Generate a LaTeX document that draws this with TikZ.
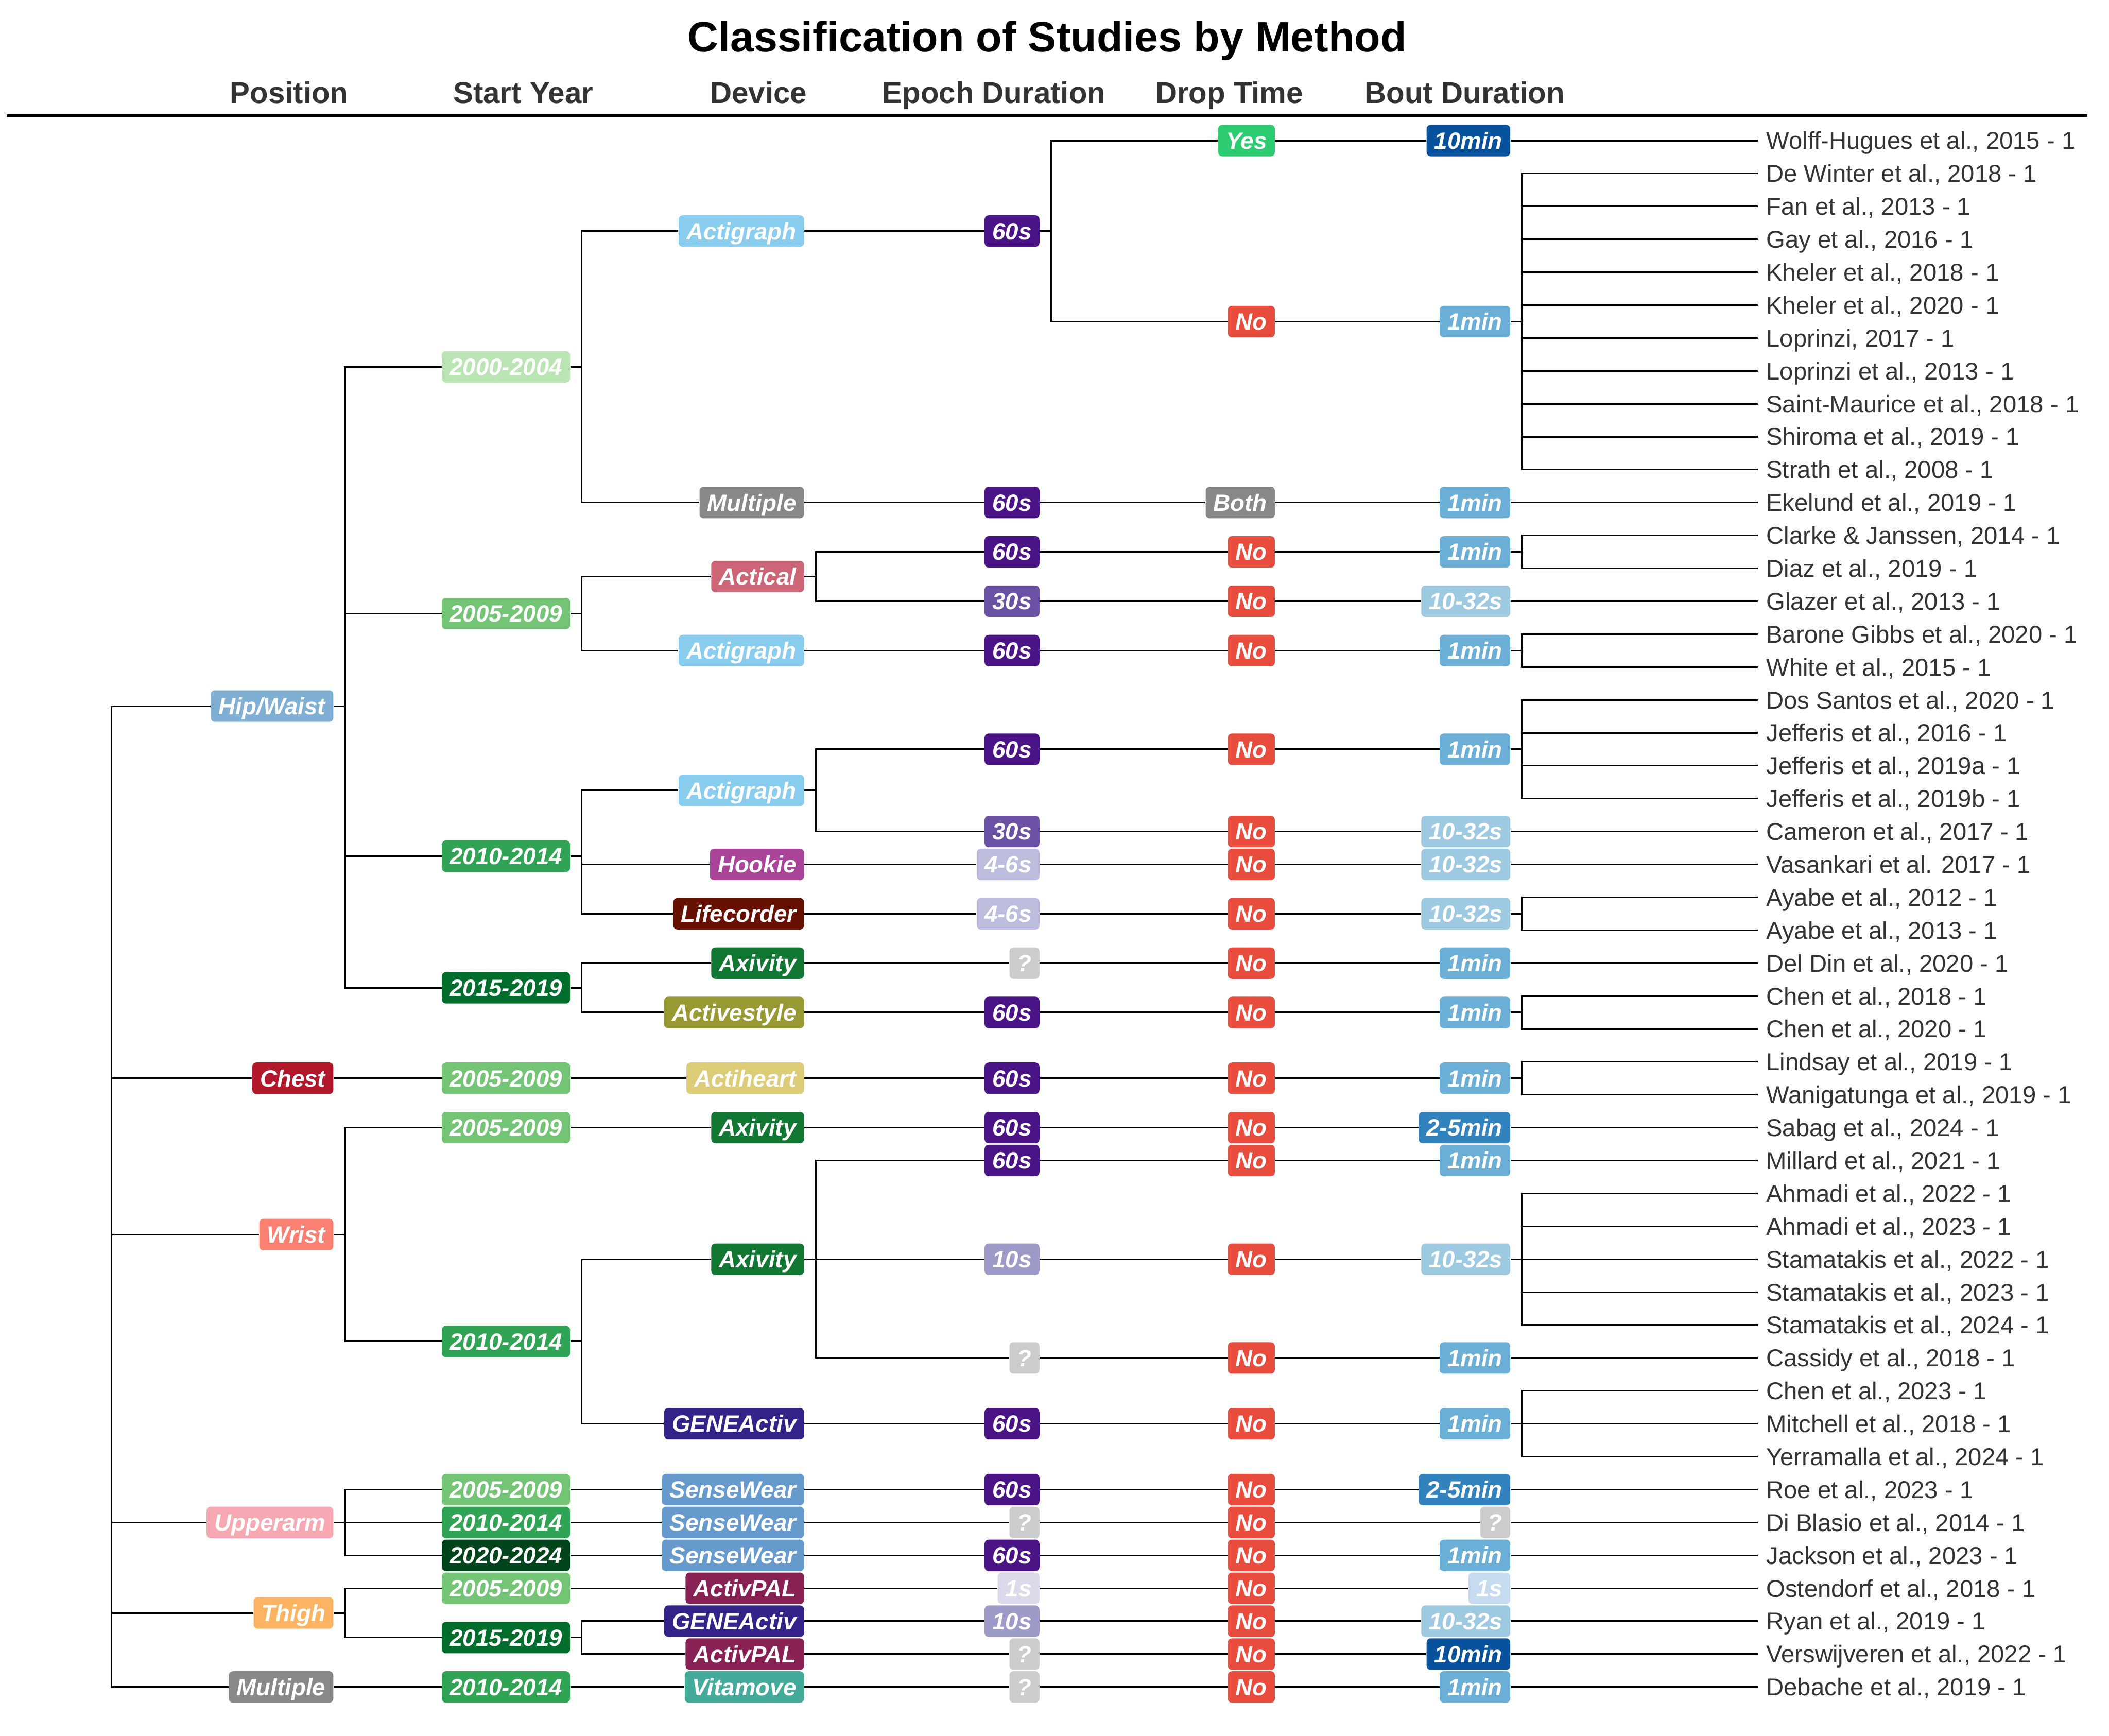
\documentclass[tikz,border=0pt]{standalone}
\usepackage{fontspec}
\setmainfont{Liberation Sans}
\definecolor{txt}{HTML}{333333}
\definecolor{cHip}{HTML}{7FAFD3}
\definecolor{cChest}{HTML}{B2182B}
\definecolor{cWrist}{HTML}{FA8072}
\definecolor{cUpper}{HTML}{F7A8B2}
\definecolor{cThigh}{HTML}{FDB462}
\definecolor{cGrey}{HTML}{888888}
\definecolor{yA}{HTML}{BAE4B3}
\definecolor{yB}{HTML}{74C476}
\definecolor{yC}{HTML}{31A354}
\definecolor{yD}{HTML}{006D2C}
\definecolor{yE}{HTML}{00441B}
\definecolor{dActigraph}{HTML}{88CCEE}
\definecolor{dActical}{HTML}{CC6677}
\definecolor{dHookie}{HTML}{AA4499}
\definecolor{dLife}{HTML}{661100}
\definecolor{dAxivity}{HTML}{117733}
\definecolor{dActivestyle}{HTML}{999933}
\definecolor{dActiheart}{HTML}{DDCC77}
\definecolor{dGENE}{HTML}{332288}
\definecolor{dSense}{HTML}{6699CC}
\definecolor{dPAL}{HTML}{882255}
\definecolor{dVita}{HTML}{44AA99}
\definecolor{e60}{HTML}{4A1486}
\definecolor{e30}{HTML}{6A51A3}
\definecolor{e46}{HTML}{BCBDDC}
\definecolor{e10}{HTML}{9E9AC8}
\definecolor{eQ}{HTML}{CCCCCC}
\definecolor{e1}{HTML}{DADAEB}
\definecolor{pYes}{HTML}{2ECC71}
\definecolor{pNo}{HTML}{E74C3C}
\definecolor{b10m}{HTML}{08519C}
\definecolor{b1m}{HTML}{6BAED6}
\definecolor{b1032}{HTML}{9ECAE1}
\definecolor{b25}{HTML}{3182BD}
\definecolor{b1s}{HTML}{C6DBEF}
\newcommand{\LY}[1]{-104.5-(#1-1)*24.457}
\tikzset{
  tbox/.style={fill=#1, rounded corners=3pt, text=white,
    font=\fontsize{17.5}{17.5}\selectfont\bfseries\itshape,
    inner xsep=5.8pt, inner ysep=5.45pt, text height=12.5pt, text depth=0pt, anchor=east},
  leaf/.style={anchor=west, inner xsep=6pt, inner ysep=0pt,
    font=\fontsize{18.1}{18.1}\selectfont, text=txt, text height=13pt, text depth=0pt},
  conn/.style={line width=1.2pt, black},
  hdr/.style={anchor=base, font=\fontsize{22.3}{22.3}\selectfont\bfseries, text=txt, inner sep=0pt},
}
\begin{document}
\begin{tikzpicture}[x=1pt,y=1pt]
\useasboundingbox (0,0) rectangle (1568,-1290.3);
% title and header
\node[anchor=base, font=\fontsize{31.65}{31.65}\selectfont\bfseries, inner sep=0pt] (title) at (778.5,-38.6) {Classification of Studies by Method};
\node[hdr] (h1) at (215,-76.6) {Position};
\node[hdr] (h2) at (389,-76.6) {Start Year};
\node[hdr] (h3) at (564,-76.6) {Device};
\node[hdr] (h4) at (739,-76.6) {Epoch Duration};
\node[hdr] (h5) at (914,-76.6) {Drop Time};
\node[hdr] (h6) at (1089,-76.6) {Bout Duration};
\coordinate (rl) at (5,-86);
\coordinate (rr) at (1552,-86);
\draw[line width=1.7pt] (rl) -- (rr);
% positions
\coordinate (R) at (83,{\LY{36.45}});
\node[tbox=cHip] (P1) at (248,{\LY{18.1875}}) {Hip/Waist};
\node[tbox=cChest] (P2) at (248,{\LY{29.5}}) {Chest};
\node[tbox=cWrist] (P3) at (248,{\LY{34.25}}) {Wrist};
\node[tbox=cUpper] (P4) at (248,{\LY{43}}) {Upperarm};
\node[tbox=cThigh] (P5) at (248,{\LY{45.75}}) {Thigh};
\node[tbox=cGrey] (P6) at (248,{\LY{48}}) {Multiple};
% start years
\node[tbox=yA] (S1) at (424,{\LY{7.875}}) {2000-2004};
\node[tbox=yB] (S2) at (424,{\LY{15.375}}) {2005-2009};
\node[tbox=yC] (S3) at (424,{\LY{22.75}}) {2010-2014};
\node[tbox=yD] (S4) at (424,{\LY{26.75}}) {2015-2019};
\node[tbox=yB] (S5) at (424,{\LY{29.5}}) {2005-2009};
\node[tbox=yB] (S6) at (424,{\LY{31}}) {2005-2009};
\node[tbox=yC] (S7) at (424,{\LY{37.5}}) {2010-2014};
\node[tbox=yB] (S8) at (424,{\LY{42}}) {2005-2009};
\node[tbox=yC] (S9) at (424,{\LY{43}}) {2010-2014};
\node[tbox=yE] (S10) at (424,{\LY{44}}) {2020-2024};
\node[tbox=yB] (S11) at (424,{\LY{45}}) {2005-2009};
\node[tbox=yD] (S12) at (424,{\LY{46.5}}) {2015-2019};
\node[tbox=yC] (S13) at (424,{\LY{48}}) {2010-2014};
% devices
\node[tbox=dActigraph] (V1) at (598,{\LY{3.75}}) {Actigraph};
\node[tbox=cGrey] (V2) at (598,{\LY{12}}) {Multiple};
\node[tbox=dActical] (V3) at (598,{\LY{14.25}}) {Actical};
\node[tbox=dActigraph] (V4) at (598,{\LY{16.5}}) {Actigraph};
\node[tbox=dActigraph] (V5) at (598,{\LY{20.75}}) {Actigraph};
\node[tbox=dHookie] (V6) at (598,{\LY{23}}) {Hookie};
\node[tbox=dLife] (V7) at (598,{\LY{24.5}}) {Lifecorder};
\node[tbox=dAxivity] (V8) at (598,{\LY{26}}) {Axivity};
\node[tbox=dActivestyle] (V9) at (598,{\LY{27.5}}) {Activestyle};
\node[tbox=dActiheart] (V10) at (598,{\LY{29.5}}) {Actiheart};
\node[tbox=dAxivity] (V11) at (598,{\LY{31}}) {Axivity};
\node[tbox=dAxivity] (V12) at (598,{\LY{35}}) {Axivity};
\node[tbox=dGENE] (V13) at (598,{\LY{40}}) {GENEActiv};
\node[tbox=dSense] (V14) at (598,{\LY{42}}) {SenseWear};
\node[tbox=dSense] (V15) at (598,{\LY{43}}) {SenseWear};
\node[tbox=dSense] (V16) at (598,{\LY{44}}) {SenseWear};
\node[tbox=dPAL] (V17) at (598,{\LY{45}}) {ActivPAL};
\node[tbox=dGENE] (V18) at (598,{\LY{46}}) {GENEActiv};
\node[tbox=dPAL] (V19) at (598,{\LY{47}}) {ActivPAL};
\node[tbox=dVita] (V20) at (598,{\LY{48}}) {Vitamove};
% epochs
\node[tbox=e60] (E1) at (773,{\LY{3.75}}) {60s};
\node[tbox=e60] (E2) at (773,{\LY{12}}) {60s};
\node[tbox=e60] (E3) at (773,{\LY{13.5}}) {60s};
\node[tbox=e30] (E4) at (773,{\LY{15}}) {30s};
\node[tbox=e60] (E5) at (773,{\LY{16.5}}) {60s};
\node[tbox=e60] (E6) at (773,{\LY{19.5}}) {60s};
\node[tbox=e30] (E7) at (773,{\LY{22}}) {30s};
\node[tbox=e46] (E8) at (773,{\LY{23}}) {4-6s};
\node[tbox=e46] (E9) at (773,{\LY{24.5}}) {4-6s};
\node[tbox=eQ] (E10) at (773,{\LY{26}}) {?};
\node[tbox=e60] (E11) at (773,{\LY{27.5}}) {60s};
\node[tbox=e60] (E12) at (773,{\LY{29.5}}) {60s};
\node[tbox=e60] (E13) at (773,{\LY{31}}) {60s};
\node[tbox=e60] (E14) at (773,{\LY{32}}) {60s};
\node[tbox=e10] (E15) at (773,{\LY{35}}) {10s};
\node[tbox=eQ] (E16) at (773,{\LY{38}}) {?};
\node[tbox=e60] (E17) at (773,{\LY{40}}) {60s};
\node[tbox=e60] (E18) at (773,{\LY{42}}) {60s};
\node[tbox=eQ] (E19) at (773,{\LY{43}}) {?};
\node[tbox=e60] (E20) at (773,{\LY{44}}) {60s};
\node[tbox=e1] (E21) at (773,{\LY{45}}) {1s};
\node[tbox=e10] (E22) at (773,{\LY{46}}) {10s};
\node[tbox=eQ] (E23) at (773,{\LY{47}}) {?};
\node[tbox=eQ] (E24) at (773,{\LY{48}}) {?};
% drop time
\node[tbox=pYes] (D1) at (948,{\LY{1}}) {Yes};
\node[tbox=pNo] (D2) at (948,{\LY{6.5}}) {No};
\node[tbox=cGrey] (D3) at (948,{\LY{12}}) {Both};
\node[tbox=pNo] (D4) at (948,{\LY{13.5}}) {No};
\node[tbox=pNo] (D5) at (948,{\LY{15}}) {No};
\node[tbox=pNo] (D6) at (948,{\LY{16.5}}) {No};
\node[tbox=pNo] (D7) at (948,{\LY{19.5}}) {No};
\node[tbox=pNo] (D8) at (948,{\LY{22}}) {No};
\node[tbox=pNo] (D9) at (948,{\LY{23}}) {No};
\node[tbox=pNo] (D10) at (948,{\LY{24.5}}) {No};
\node[tbox=pNo] (D11) at (948,{\LY{26}}) {No};
\node[tbox=pNo] (D12) at (948,{\LY{27.5}}) {No};
\node[tbox=pNo] (D13) at (948,{\LY{29.5}}) {No};
\node[tbox=pNo] (D14) at (948,{\LY{31}}) {No};
\node[tbox=pNo] (D15) at (948,{\LY{32}}) {No};
\node[tbox=pNo] (D16) at (948,{\LY{35}}) {No};
\node[tbox=pNo] (D17) at (948,{\LY{38}}) {No};
\node[tbox=pNo] (D18) at (948,{\LY{40}}) {No};
\node[tbox=pNo] (D19) at (948,{\LY{42}}) {No};
\node[tbox=pNo] (D20) at (948,{\LY{43}}) {No};
\node[tbox=pNo] (D21) at (948,{\LY{44}}) {No};
\node[tbox=pNo] (D22) at (948,{\LY{45}}) {No};
\node[tbox=pNo] (D23) at (948,{\LY{46}}) {No};
\node[tbox=pNo] (D24) at (948,{\LY{47}}) {No};
\node[tbox=pNo] (D25) at (948,{\LY{48}}) {No};
% bout duration
\node[tbox=b10m] (B1) at (1123,{\LY{1}}) {10min};
\node[tbox=b1m] (B2) at (1123,{\LY{6.5}}) {1min};
\node[tbox=b1m] (B3) at (1123,{\LY{12}}) {1min};
\node[tbox=b1m] (B4) at (1123,{\LY{13.5}}) {1min};
\node[tbox=b1032] (B5) at (1123,{\LY{15}}) {10-32s};
\node[tbox=b1m] (B6) at (1123,{\LY{16.5}}) {1min};
\node[tbox=b1m] (B7) at (1123,{\LY{19.5}}) {1min};
\node[tbox=b1032] (B8) at (1123,{\LY{22}}) {10-32s};
\node[tbox=b1032] (B9) at (1123,{\LY{23}}) {10-32s};
\node[tbox=b1032] (B10) at (1123,{\LY{24.5}}) {10-32s};
\node[tbox=b1m] (B11) at (1123,{\LY{26}}) {1min};
\node[tbox=b1m] (B12) at (1123,{\LY{27.5}}) {1min};
\node[tbox=b1m] (B13) at (1123,{\LY{29.5}}) {1min};
\node[tbox=b25] (B14) at (1123,{\LY{31}}) {2-5min};
\node[tbox=b1m] (B15) at (1123,{\LY{32}}) {1min};
\node[tbox=b1032] (B16) at (1123,{\LY{35}}) {10-32s};
\node[tbox=b1m] (B17) at (1123,{\LY{38}}) {1min};
\node[tbox=b1m] (B18) at (1123,{\LY{40}}) {1min};
\node[tbox=b25] (B19) at (1123,{\LY{42}}) {2-5min};
\node[tbox=eQ] (B20) at (1123,{\LY{43}}) {?};
\node[tbox=b1m] (B21) at (1123,{\LY{44}}) {1min};
\node[tbox=b1s] (B22) at (1123,{\LY{45}}) {1s};
\node[tbox=b1032] (B23) at (1123,{\LY{46}}) {10-32s};
\node[tbox=b10m] (B24) at (1123,{\LY{47}}) {10min};
\node[tbox=b1m] (B25) at (1123,{\LY{48}}) {1min};
% leaves
\node[leaf] (L1) at (1307,{\LY{1}}) {Wolff-Hugues et al., 2015 - 1};
\node[leaf] (L2) at (1307,{\LY{2}}) {De Winter et al., 2018 - 1};
\node[leaf] (L3) at (1307,{\LY{3}}) {Fan et al., 2013 - 1};
\node[leaf] (L4) at (1307,{\LY{4}}) {Gay et al., 2016 - 1};
\node[leaf] (L5) at (1307,{\LY{5}}) {Kheler et al., 2018 - 1};
\node[leaf] (L6) at (1307,{\LY{6}}) {Kheler et al., 2020 - 1};
\node[leaf] (L7) at (1307,{\LY{7}}) {Loprinzi, 2017 - 1};
\node[leaf] (L8) at (1307,{\LY{8}}) {Loprinzi et al., 2013 - 1};
\node[leaf] (L9) at (1307,{\LY{9}}) {Saint-Maurice et al., 2018 - 1};
\node[leaf] (L10) at (1307,{\LY{10}}) {Shiroma et al., 2019 - 1};
\node[leaf] (L11) at (1307,{\LY{11}}) {Strath et al., 2008 - 1};
\node[leaf] (L12) at (1307,{\LY{12}}) {Ekelund et al., 2019 - 1};
\node[leaf] (L13) at (1307,{\LY{13}}) {Clarke \& Janssen, 2014 - 1};
\node[leaf] (L14) at (1307,{\LY{14}}) {Diaz et al., 2019 - 1};
\node[leaf] (L15) at (1307,{\LY{15}}) {Glazer et al., 2013 - 1};
\node[leaf] (L16) at (1307,{\LY{16}}) {Barone Gibbs et al., 2020 - 1};
\node[leaf] (L17) at (1307,{\LY{17}}) {White et al., 2015 - 1};
\node[leaf] (L18) at (1307,{\LY{18}}) {Dos Santos et al., 2020 - 1};
\node[leaf] (L19) at (1307,{\LY{19}}) {Jefferis et al., 2016 - 1};
\node[leaf] (L20) at (1307,{\LY{20}}) {Jefferis et al., 2019a - 1};
\node[leaf] (L21) at (1307,{\LY{21}}) {Jefferis et al., 2019b - 1};
\node[leaf] (L22) at (1307,{\LY{22}}) {Cameron et al., 2017 - 1};
\node[leaf] (L23) at (1307,{\LY{23}}) {Vasankari et al. 2017 - 1};
\node[leaf] (L24) at (1307,{\LY{24}}) {Ayabe et al., 2012 - 1};
\node[leaf] (L25) at (1307,{\LY{25}}) {Ayabe et al., 2013 - 1};
\node[leaf] (L26) at (1307,{\LY{26}}) {Del Din et al., 2020 - 1};
\node[leaf] (L27) at (1307,{\LY{27}}) {Chen et al., 2018 - 1};
\node[leaf] (L28) at (1307,{\LY{28}}) {Chen et al., 2020 - 1};
\node[leaf] (L29) at (1307,{\LY{29}}) {Lindsay et al., 2019 - 1};
\node[leaf] (L30) at (1307,{\LY{30}}) {Wanigatunga et al., 2019 - 1};
\node[leaf] (L31) at (1307,{\LY{31}}) {Sabag et al., 2024 - 1};
\node[leaf] (L32) at (1307,{\LY{32}}) {Millard et al., 2021 - 1};
\node[leaf] (L33) at (1307,{\LY{33}}) {Ahmadi et al., 2022 - 1};
\node[leaf] (L34) at (1307,{\LY{34}}) {Ahmadi et al., 2023 - 1};
\node[leaf] (L35) at (1307,{\LY{35}}) {Stamatakis et al., 2022 - 1};
\node[leaf] (L36) at (1307,{\LY{36}}) {Stamatakis et al., 2023 - 1};
\node[leaf] (L37) at (1307,{\LY{37}}) {Stamatakis et al., 2024 - 1};
\node[leaf] (L38) at (1307,{\LY{38}}) {Cassidy et al., 2018 - 1};
\node[leaf] (L39) at (1307,{\LY{39}}) {Chen et al., 2023 - 1};
\node[leaf] (L40) at (1307,{\LY{40}}) {Mitchell et al., 2018 - 1};
\node[leaf] (L41) at (1307,{\LY{41}}) {Yerramalla et al., 2024 - 1};
\node[leaf] (L42) at (1307,{\LY{42}}) {Roe et al., 2023 - 1};
\node[leaf] (L43) at (1307,{\LY{43}}) {Di Blasio et al., 2014 - 1};
\node[leaf] (L44) at (1307,{\LY{44}}) {Jackson et al., 2023 - 1};
\node[leaf] (L45) at (1307,{\LY{45}}) {Ostendorf et al., 2018 - 1};
\node[leaf] (L46) at (1307,{\LY{46}}) {Ryan et al., 2019 - 1};
\node[leaf] (L47) at (1307,{\LY{47}}) {Verswijveren et al., 2022 - 1};
\node[leaf] (L48) at (1307,{\LY{48}}) {Debache et al., 2019 - 1};
% connectors
\foreach \b in {P1,P2,P3,P4,P5,P6}
  \draw[conn] (R) |- (\b.west);
\foreach \a/\b in {P1/S1,P1/S2,P1/S3,P1/S4,P2/S5,P3/S6,P3/S7,P4/S8,P4/S9,P4/S10,P5/S11,P5/S12,P6/S13,
  S1/V1,S1/V2,S2/V3,S2/V4,S3/V5,S3/V6,S3/V7,S4/V8,S4/V9,S5/V10,S6/V11,S7/V12,S7/V13,S8/V14,S9/V15,S10/V16,S11/V17,S12/V18,S12/V19,S13/V20,
  V1/E1,V2/E2,V3/E3,V3/E4,V4/E5,V5/E6,V5/E7,V6/E8,V7/E9,V8/E10,V9/E11,V10/E12,V11/E13,V12/E14,V12/E15,V12/E16,V13/E17,V14/E18,V15/E19,V16/E20,V17/E21,V18/E22,V19/E23,V20/E24,
  E1/D1,E1/D2,E2/D3,E3/D4,E4/D5,E5/D6,E6/D7,E7/D8,E8/D9,E9/D10,E10/D11,E11/D12,E12/D13,E13/D14,E14/D15,E15/D16,E16/D17,E17/D18,E18/D19,E19/D20,E20/D21,E21/D22,E22/D23,E23/D24,E24/D25,
  D1/B1,D2/B2,D3/B3,D4/B4,D5/B5,D6/B6,D7/B7,D8/B8,D9/B9,D10/B10,D11/B11,D12/B12,D13/B13,D14/B14,D15/B15,D16/B16,D17/B17,D18/B18,D19/B19,D20/B20,D21/B21,D22/B22,D23/B23,D24/B24,D25/B25,
  B1/L1,B2/L2,B2/L3,B2/L4,B2/L5,B2/L6,B2/L7,B2/L8,B2/L9,B2/L10,B2/L11,B3/L12,B4/L13,B4/L14,B5/L15,B6/L16,B6/L17,
  B7/L18,B7/L19,B7/L20,B7/L21,B8/L22,B9/L23,B10/L24,B10/L25,B11/L26,B12/L27,B12/L28,B13/L29,B13/L30,B14/L31,B15/L32,
  B16/L33,B16/L34,B16/L35,B16/L36,B16/L37,B17/L38,B18/L39,B18/L40,B18/L41,B19/L42,B20/L43,B21/L44,B22/L45,B23/L46,B24/L47,B25/L48}
  \draw[conn] (\a.east) -- ++(8.5,0) |- (\b.west);
\end{tikzpicture}
\end{document}
